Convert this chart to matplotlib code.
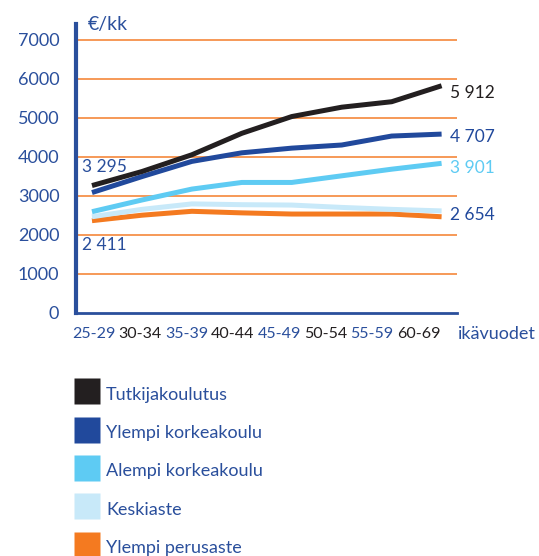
import numpy as np
import matplotlib.pyplot as plt
from matplotlib.lines import Line2D

plt.rcParams['font.family'] = ['Lato', 'DejaVu Sans']

ages = ['25-29', '30-34', '35-39', '40-44', '45-49', '50-54', '55-59', '60-69']
names = ['Tutkijakoulutus', 'Ylempi korkeakoulu', 'Alempi korkeakoulu',
         'Keskiaste', 'Ylempi perusaste']
tutkija = [3260, 3620, 4050, 4600, 5030, 5270, 5410, 5820]
ylempi_kk = [3080, 3490, 3880, 4100, 4220, 4300, 4530, 4580]
alempi_kk = [2590, 2890, 3170, 3340, 3340, 3510, 3680, 3830]
keskiaste = [2460, 2650, 2790, 2770, 2760, 2700, 2650, 2610]
perusaste = [2360, 2500, 2600, 2560, 2530, 2530, 2530, 2460]
series = [tutkija, ylempi_kk, alempi_kk, keskiaste, perusaste]
colors = ['#231f20', '#21499c', '#5ecbf3', '#c8e9f9', '#f47a20']
end_labels = ['5 912', '4 707', '3 901', '2 654']
end_colors = ['#231f20', '#21499c', '#5ecbf3', '#21499c']
start_labels = ['3 295', '2 411']

blue = '#2a4f9c'
grid_c = '#f6914a'

fig = plt.figure(figsize=(5.39, 5.56), dpi=100)
ax = fig.add_axes([0.141, 0.4376, 0.707, 0.519])

x = np.arange(len(ages))
for yv in range(1000, 8000, 1000):
    ax.axhline(yv, color=grid_c, lw=1.3, zorder=1)

# bottom series first so black ends up on top
for vals, c in reversed(list(zip(series, colors))):
    ax.plot(x, vals, color=c, lw=3.6, solid_capstyle='butt', zorder=3)

ax.set_xlim(-0.32, 7.31)
ax.set_ylim(0, 7400)
ax.set_yticks(range(0, 8000, 1000))
ax.tick_params(axis='y', length=0, pad=12, labelsize=13, labelcolor=blue)
# the age labels sit a bit tighter than the data points
ax.set_xticks(0.04 + 0.928 * x)
ax.set_xticklabels(ages)
ax.tick_params(axis='x', length=0, pad=10, labelsize=11.5)
for i, t in enumerate(ax.get_xticklabels()):
    t.set_color(blue if i % 2 == 0 else '#231f20')

for s in ['top', 'right']:
    ax.spines[s].set_visible(False)
ax.spines['left'].set_color(blue)
ax.spines['left'].set_linewidth(3)
ax.spines['bottom'].set_color(blue)
ax.spines['bottom'].set_linewidth(2)

ax.text(0.03, 0.997, '€/kk', transform=ax.transAxes, color=blue, fontsize=14,
        va='center', ha='left')
ax.text(1.003, -0.075, 'ikävuodet', transform=ax.transAxes, color=blue,
        fontsize=13, va='center', ha='left')

for lab, yv in zip(start_labels, [3740, 1740]):
    ax.text(-0.2, yv, lab, color=blue, fontsize=12.5, va='center', ha='left')
for lab, c, yv in zip(end_labels, end_colors, [5630, 4500, 3710, 2500]):
    ax.text(7.17, yv, lab, color=c, fontsize=12.5, va='center', ha='left',
            clip_on=False)

handles = [Line2D([], [], ls='none', marker='s', markersize=18.7,
                  markerfacecolor=c, markeredgecolor='none') for c in colors]
leg = fig.legend(handles, names, loc='upper left', bbox_to_anchor=(0.137, 0.311),
                 frameon=False, fontsize=13, handlelength=1.44, handleheight=1.44,
                 handletextpad=0.35, labelspacing=0.94, borderaxespad=0,
                 borderpad=0)
for t in leg.get_texts():
    t.set_color(blue)

fig.savefig('out.png', dpi=100)
